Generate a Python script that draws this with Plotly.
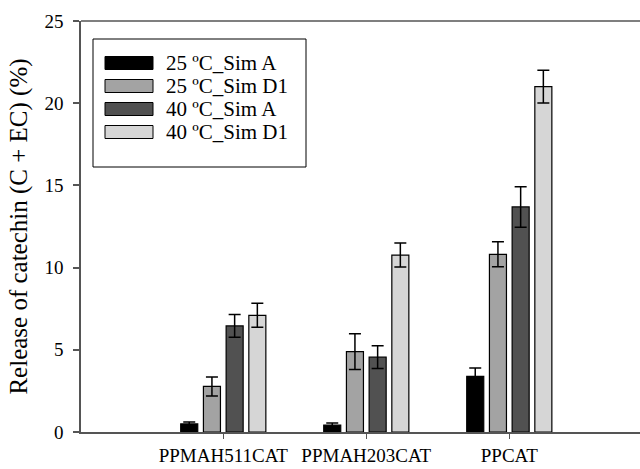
import plotly.graph_objects as go

categories = ["PPMAH511CAT", "PPMAH203CAT", "PPCAT"]
series_names = ["25 ºC_Sim A", "25 ºC_Sim D1", "40 ºC_Sim A", "40 ºC_Sim D1"]
sim_a_25 = [0.49, 0.42, 3.38]
sim_a_25_err = [0.12, 0.12, 0.52]
sim_d1_25 = [2.77, 4.89, 10.81]
sim_d1_25_err = [0.58, 1.09, 0.76]
sim_a_40 = [6.45, 4.55, 13.69]
sim_a_40_err = [0.69, 0.69, 1.23]
sim_d1_40 = [7.10, 10.76, 21.01]
sim_d1_40_err = [0.73, 0.73, 1.00]
y_ticks = [0, 5, 10, 15, 20, 25]

values = [sim_a_25, sim_d1_25, sim_a_40, sim_d1_40]
errors = [sim_a_25_err, sim_d1_25_err, sim_a_40_err, sim_d1_40_err]
colors = ["#000000", "#a3a3a3", "#515151", "#d6d6d6"]

W, H = 640, 469
ML, MR, MT, MB = 81, 0, 21, 37
FONT = "Liberation Serif"

fig = go.Figure()
for name, v, e, c in zip(series_names, values, errors, colors):
    fig.add_trace(go.Bar(
        x=categories, y=v, name=name,
        marker=dict(color=c, line=dict(color="#000000", width=1.2)),
        error_y=dict(type="data", array=e, visible=True, color="#000000",
                     thickness=1.5, width=6),
        showlegend=False,
    ))

def px_x(px):
    return (px - ML) / (W - ML - MR)

def px_y(py):
    return (H - MB - py) / (H - MT - MB)

shapes = []
annotations = []
# top frame line
shapes.append(dict(type="line", xref="paper", yref="paper", x0=0, x1=1, y0=1, y1=1,
                   line=dict(color="#555555", width=1.5)))
# mask the right edge of the plot area (no right frame in the reference)
shapes.append(dict(type="rect", xref="paper", yref="paper",
                   x0=px_x(633), x1=px_x(645), y0=px_y(430.5), y1=px_y(22.5),
                   line=dict(width=0), fillcolor="white", layer="above"))
# legend box
shapes.append(dict(type="rect", xref="paper", yref="paper",
                   x0=px_x(93), x1=px_x(306), y0=px_y(167), y1=px_y(39),
                   line=dict(color="#000000", width=1), fillcolor="white", layer="above"))
row_y = [63, 86, 109, 132]
for name, c, ry in zip(series_names, colors, row_y):
    shapes.append(dict(type="rect", xref="paper", yref="paper",
                       x0=px_x(105), x1=px_x(153), y0=px_y(ry + 6.5), y1=px_y(ry - 6.5),
                       line=dict(color="#000000", width=1), fillcolor=c, layer="above"))
    annotations.append(dict(xref="paper", yref="paper", x=px_x(164), y=px_y(ry),
                            text=name, showarrow=False, xanchor="left", yanchor="middle",
                            font=dict(family=FONT, size=21, color="#000000")))

fig.update_layout(
    width=W, height=H,
    margin=dict(l=ML, r=MR, t=MT, b=MB, pad=0, autoexpand=False),
    plot_bgcolor="white", paper_bgcolor="white",
    barmode="group", bargap=0.365, bargroupgap=0.25,
    shapes=shapes, annotations=annotations,
    xaxis=dict(
        range=[-0.995, 2.914], showline=True, linecolor="#555555", linewidth=1.5,
        mirror=False, ticks="outside", ticklen=5, tickcolor="#555555",
        tickfont=dict(family=FONT, size=19, color="#000000"),
        showgrid=False, zeroline=False,
    ),
    yaxis=dict(
        range=[0, 25], tickvals=y_ticks, showline=True, linecolor="#555555",
        linewidth=1.5, mirror=False,
        ticks="outside", ticklen=6, tickcolor="#555555", tickwidth=1.5,
        tickfont=dict(family=FONT, size=19, color="#000000"),
        ticklabelstandoff=6,
        showgrid=False, zeroline=False,
        title=dict(text="Release of catechin (C + EC) (%)",
                   font=dict(family=FONT, size=25, color="#000000"), standoff=10),
    ),
)

fig.write_html(
    "out.html",
    config={"displayModeBar": False},
    post_script="document.documentElement.style.overflow='hidden';document.body.style.overflow='hidden';document.body.style.margin='0';",
)
